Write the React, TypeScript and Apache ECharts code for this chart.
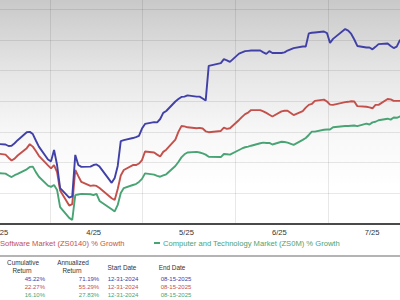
import React, { useEffect, useRef } from "react";
import * as echarts from "echarts";

const monthLabels = ["3/25", "4/25", "5/25", "6/25", "7/25"];

const dates = [
  "2025-03-14", "2025-03-17", "2025-03-18", "2025-03-19", "2025-03-20", "2025-03-21", "2025-03-24", "2025-03-25", "2025-03-26", "2025-03-27",
  "2025-03-28", "2025-03-31", "2025-04-01", "2025-04-02", "2025-04-03", "2025-04-04", "2025-04-07", "2025-04-08", "2025-04-09", "2025-04-10",
  "2025-04-11", "2025-04-14", "2025-04-15", "2025-04-16", "2025-04-17", "2025-04-21", "2025-04-22", "2025-04-23", "2025-04-24", "2025-04-25",
  "2025-04-28", "2025-04-29", "2025-04-30", "2025-05-01", "2025-05-02", "2025-05-05", "2025-05-06", "2025-05-07", "2025-05-08", "2025-05-09",
  "2025-05-12", "2025-05-13", "2025-05-14", "2025-05-15", "2025-05-16", "2025-05-19", "2025-05-20", "2025-05-21", "2025-05-22", "2025-05-23",
  "2025-05-27", "2025-05-28", "2025-05-29", "2025-05-30", "2025-06-02", "2025-06-03", "2025-06-04", "2025-06-05", "2025-06-06", "2025-06-09",
  "2025-06-10", "2025-06-11", "2025-06-12", "2025-06-13", "2025-06-16", "2025-06-17", "2025-06-18", "2025-06-20", "2025-06-23", "2025-06-24",
  "2025-06-25", "2025-06-26", "2025-06-27", "2025-06-30", "2025-07-01", "2025-07-02", "2025-07-03", "2025-07-07", "2025-07-08", "2025-07-09",
  "2025-07-10", "2025-07-11", "2025-07-14", "2025-07-15", "2025-07-16", "2025-07-17", "2025-07-18", "2025-07-21", "2025-07-22", "2025-07-23",
  "2025-07-24", "2025-07-25", "2025-07-28",
];

const stockGrowth = [
  6.1, 5.9, 5.4, 5.5, 6.3, 7.3, 9.9, 10.0, 9.3, 7.2,
  5.2, 1.0, 0.4, 4.1, -0.8, -8.3, -11.4, -11.0, 2.5, -0.8,
  -1.4, -1.3, -0.8, -0.6, -1.3, -6.6, -5.0, -1.1, 7.0, 7.3,
  8.0, 8.3, 8.7, 11.1, 12.6, 13.2, 13.1, 14.2, 16.2, 16.8,
  19.9, 20.7, 21.4, 21.5, 21.9, 21.5, 21.5, 20.9, 20.2, 31.5,
  32.4, 33.7, 33.3, 32.8, 35.5, 35.9, 36.3, 36.4, 36.5, 36.5,
  35.9, 35.4, 36.3, 35.7, 35.7, 35.9, 36.5, 37.3, 37.8, 37.8,
  42.1, 42.3, 42.4, 42.7, 42.2, 39.0, 40.3, 43.5, 43.0, 41.9,
  40.1, 38.0, 37.5, 37.5, 36.9, 37.7, 38.6, 38.8, 38.0, 37.3,
  37.8, 39.8, 40.9,
];

const softwareGrowth = [
  3.0, 2.6, 1.6, 0.7, 1.3, 2.3, 4.7, 6.0, 5.2, 3.8,
  2.2, -0.9, -1.9, -0.8, -3.1, -9.1, -14.0, -13.5, -2.4, -4.4,
  -6.3, -7.6, -7.4, -7.6, -8.3, -11.6, -12.2, -8.6, -4.2, -2.4,
  -0.8, -0.8, -0.3, 0.8, 3.6, 3.3, 2.6, 2.0, 3.5, 4.2,
  7.5, 10.0, 11.9, 11.8, 11.5, 11.2, 11.3, 11.1, 10.2, 9.9,
  10.3, 11.4, 11.0, 11.2, 13.9, 14.9, 15.8, 16.3, 17.1, 17.1,
  16.7, 16.2, 15.6, 15.0, 16.7, 16.9, 16.9, 15.5, 16.8, 17.9,
  18.8, 19.1, 20.1, 20.5, 19.9, 18.9, 18.8, 19.7, 19.8, 20.0,
  19.9, 18.4, 18.2, 18.0, 17.7, 18.8, 18.8, 20.7, 20.6, 20.1,
  20.1, 20.1, 20.4,
];

const techGrowth = [
  -3.4, -3.6, -4.2, -4.7, -4.1, -3.7, -2.2, -1.4, -1.3, -3.1,
  -4.6, -7.5, -7.9, -7.3, -8.9, -14.5, -18.0, -18.7, -10.6, -10.4,
  -10.2, -10.3, -10.6, -10.2, -12.5, -15.2, -15.9, -13.8, -9.9, -8.3,
  -7.3, -7.0, -6.3, -5.3, -3.5, -3.9, -4.3, -4.6, -4.2, -3.8,
  -1.1, 0.2, 1.7, 2.7, 3.3, 3.5, 3.3, 3.0, 2.6, 1.9,
  1.8, 2.8, 2.7, 2.6, 4.1, 4.6, 5.0, 5.2, 5.5, 6.3,
  6.5, 6.4, 6.4, 5.9, 6.8, 6.7, 6.5, 5.8, 7.4, 8.0,
  9.0, 10.1, 10.1, 10.7, 10.8, 10.8, 11.5, 11.9, 11.9, 12.0,
  12.1, 11.9, 12.7, 12.4, 13.1, 13.3, 13.8, 14.3, 14.0, 14.7,
  14.6, 15.0, 15.5,
];

const softwareName = "Software Market (ZS0140) % Growth";
const techName = "Computer and Technology Market (ZS0M) % Growth";

const cumulativeReturns = ["45.22%", "22.27%", "16.10%"];
const annualizedReturns = ["71.19%", "55.29%", "27.83%"];
const startDates = ["12-31-2024", "12-31-2024", "12-31-2024"];
const endDates = ["08-15-2025", "08-15-2025", "08-15-2025"];

const BLUE = "#4040a8";
const RED = "#c4504c";
const GREEN = "#48a474";
const rowColors = [BLUE, RED, GREEN];
const FONT = "Liberation Sans, Arial, sans-serif";

export default function App() {
  const ref = useRef<HTMLDivElement>(null);

  useEffect(() => {
    if (!ref.current) return;
    const chart = echarts.init(ref.current, undefined, { renderer: "svg" });

    const txt = (text: string, x: number, y: number, fill: string, size: number, align = "left") => ({
      type: "text",
      x,
      y,
      silent: true,
      style: {
        text,
        fill,
        fontSize: size,
        fontFamily: FONT,
        textAlign: align,
        textVerticalAlign: "middle",
      },
    });

    const graphics: any[] = [
      { type: "rect", shape: { x: 0, y: 255, width: 400, height: 2 }, style: { fill: "#b4b4b4" }, silent: true },
      txt(softwareName, 0, 243, RED, 7.6),
      { type: "line", shape: { x1: 154, y1: 243, x2: 160, y2: 243 }, style: { stroke: GREEN, lineWidth: 2 }, silent: true },
      txt(techName, 163, 243, GREEN, 7.6),
      txt("Cumulative", 23, 262, "#333", 6.4, "center"),
      txt("Return", 22, 270, "#333", 6.4, "center"),
      txt("Annualized", 73, 262, "#333", 6.4, "center"),
      txt("Return", 72, 270, "#333", 6.4, "center"),
      txt("Start Date", 122, 267, "#333", 6.4, "center"),
      txt("End Date", 172, 267, "#333", 6.4, "center"),
    ];
    const rowY = [279, 287, 294.5];
    rowY.forEach((y, i) => {
      graphics.push(txt(cumulativeReturns[i], 45, y, rowColors[i], 6, "right"));
      graphics.push(txt(annualizedReturns[i], 89, y, rowColors[i], 6, "center"));
      graphics.push(txt(startDates[i], 123, y, rowColors[i], 6, "center"));
      graphics.push(txt(endDates[i], 176, y, rowColors[i], 6, "center"));
    });

    const gradient = new echarts.graphic.LinearGradient(0, 0, 0, 1, [
      { offset: 0, color: "#c2c2c2" },
      { offset: 0.09, color: "#c9c9c9" },
      { offset: 0.36, color: "#e4e4e4" },
      { offset: 0.62, color: "#f7f7f7" },
      { offset: 0.85, color: "#ffffff" },
      { offset: 1, color: "#ffffff" },
    ]);

    const mk = (vals: number[]) => dates.map((d, i) => [d, vals[i]]);
    const lineSeries = (name: string, vals: number[], color: string) => ({
      type: "line",
      name,
      xAxisIndex: 1,
      yAxisIndex: 0,
      data: mk(vals),
      showSymbol: false,
      symbol: "none",
      lineStyle: { color, width: 1.9 },
      itemStyle: { color },
    });

    chart.setOption({
      animation: false,
      textStyle: { fontFamily: FONT },
      grid: {
        left: -43,
        width: 464,
        top: -21.6,
        height: 245.6,
        outerBoundsMode: "none",
        containLabel: false,
        show: true,
        borderWidth: 0,
        backgroundColor: gradient,
      },
      xAxis: [
        {
          type: "category",
          data: monthLabels,
          boundaryGap: true,
          position: "bottom",
          axisLine: { show: true, onZero: false, lineStyle: { color: "#4a4a4a", width: 2 } },
          axisTick: { show: false },
          splitLine: { show: true, lineStyle: { color: "rgba(0,0,0,0.09)", width: 1 } },
          axisLabel: { color: "#333", fontSize: 7.6, margin: 4, fontFamily: FONT, padding: [0, 5, 0, 0] },
        },
        {
          type: "time",
          min: +new Date(2025, 2, 1),
          max: +new Date(2025, 7, 1),
          show: false,
          axisLine: { show: false, onZero: false },
          axisLabel: { show: false },
          axisTick: { show: false },
          splitLine: { show: false },
        },
      ],
      yAxis: {
        type: "value",
        min: -20,
        max: 60,
        interval: 10,
        axisLine: { show: false },
        axisTick: { show: false },
        axisLabel: { show: false },
        splitLine: { show: true, lineStyle: { color: "rgba(0,0,0,0.09)", width: 1 } },
      },
      series: [
        lineSeries(techName, techGrowth, GREEN),
        lineSeries(softwareName, softwareGrowth, RED),
        lineSeries("Stock % Growth", stockGrowth, BLUE),
      ],
      graphic: graphics,
    });

    return () => chart.dispose();
  }, []);

  return (
    <div
      ref={ref}
      style={{ position: "fixed", left: 0, top: 0, width: 400, height: 300, background: "#fff" }}
    />
  );
}
